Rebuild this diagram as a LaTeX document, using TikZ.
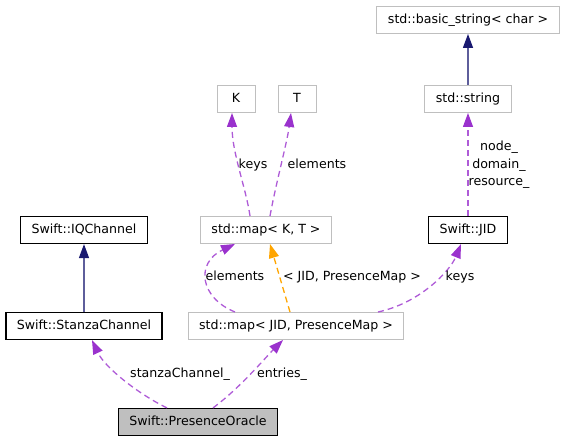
\documentclass[tikz,border=0pt]{standalone}
\usepackage{fontspec}
\setmainfont{DejaVu Sans}
\usetikzlibrary{positioning}
\usetikzlibrary{arrows.meta}
\definecolor{grey75}{HTML}{BFBFBF}
\definecolor{orchid}{HTML}{9A32CD}
\definecolor{midnight}{HTML}{191970}
\definecolor{tmplorange}{HTML}{FFA500}
\tikzset{
	cls/.style={draw=black, rectangle, line width=1.2pt, inner xsep=11pt, minimum height=27pt, text height=9.5pt, text depth=2.5pt, fill=white},
	ext/.style={cls, draw=grey75, line width=1pt},
	focus/.style={cls, fill=grey75},
	% edge looks
	inherit/.style={draw=midnight!70!white, line width=1.3pt, -{Triangle[length=14pt, width=10pt, color=midnight]}},
	usage/.style={draw=orchid!80!white, line width=1.3pt, dash pattern=on 6pt off 4pt, -{Triangle[length=14pt, width=10pt, color=orchid]}},
	tmpl/.style={draw=tmplorange, line width=1.3pt, dash pattern=on 6pt off 4pt, -{Triangle[length=14pt, width=10pt]}},
	lbl/.style={inner sep=0pt, text height=9.5pt, text depth=2.5pt},
}

\begin{document}
\begin{tikzpicture}[x=1pt, y=1pt, node distance=96pt, font=\fontsize{12.6}{15}\selectfont]
		\useasboundingbox (0,0) rectangle (565,443);
		
		\node (oracle) [focus] at (198,21) {Swift::PresenceOracle};
		
		\node (stanza) [cls] at (84,117) {Swift::StanzaChannel};
		
		\node (iqchan) [cls, above of=stanza] {Swift::IQChannel};
		
		\node (mapjid) [ext] at (296,117) {std::map< JID, PresenceMap >};
		
		\node (mapkt) [ext] at (266,213) {std::map< K, T >};
		
		\node (jid) [cls] at (468,213) {Swift::JID};
		
		\node (kparam) [ext, minimum width=38pt] at (236,344) {K};
		
		\node (tparam) [ext, minimum width=38pt] at (297,344) {T};
		
		\node (stdstr) [ext, above of=jid, yshift=35pt] {std::string};
		
		\node (basicstr) [ext] at (468,423) {std::basic\_string< char >};
		
		\begin{scope}[inherit]
			\draw (stanza) -- (iqchan);
			\draw (stdstr) -- (basicstr);
		\end{scope}
		
		\begin{scope}[usage]
			\draw (oracle.north -| 167,0) .. controls (140,48) and (105,75) .. (stanza.south -| 92,0);
			\draw (oracle.north -| 213,0) .. controls (240,55) and (265,85) .. (mapjid.south -| 283,0);
			\draw (mapjid.north -| 235,0) .. controls (200,145) and (195,180) .. (mapkt.south -| 235,0);
			\draw (mapjid.north -| 378,0) .. controls (420,140) and (450,172) .. (jid.south -| 461,0);
			\draw (mapkt.north -| 250,0) .. controls (246,255) and (232,290) .. (kparam.south -| 232,0);
			\draw (mapkt.north -| 270,0) .. controls (276,260) and (287,300) .. (tparam.south -| 291,0);
			\draw (jid) -- (stdstr);
		\end{scope}
		
		\draw [tmpl] (mapjid.north -| 290,0) -- (mapkt.south -| 270,0);
		
		% edge labels
		\node (lstanza) [lbl] at (180,69) {stanzaChannel\_};
		\node (lentries) [lbl] at (282,69) {entries\_};
		\node (lelems) [lbl] at (235,166) {elements};
		\node (ltmpl) [lbl] at (352,166) {< JID, PresenceMap >};
		\node (ljidkeys) [lbl] at (460,166) {keys};
		\node (lkeys) [lbl] at (253,278) {keys};
		\node (ltelems) [lbl] at (317,278) {elements};
		\node (lstr) [align=center, font=\fontsize{12.6}{17.5}\selectfont] at (499,278) {node\_\\domain\_\\resource\_};
		
	\end{tikzpicture}
\end{document}
